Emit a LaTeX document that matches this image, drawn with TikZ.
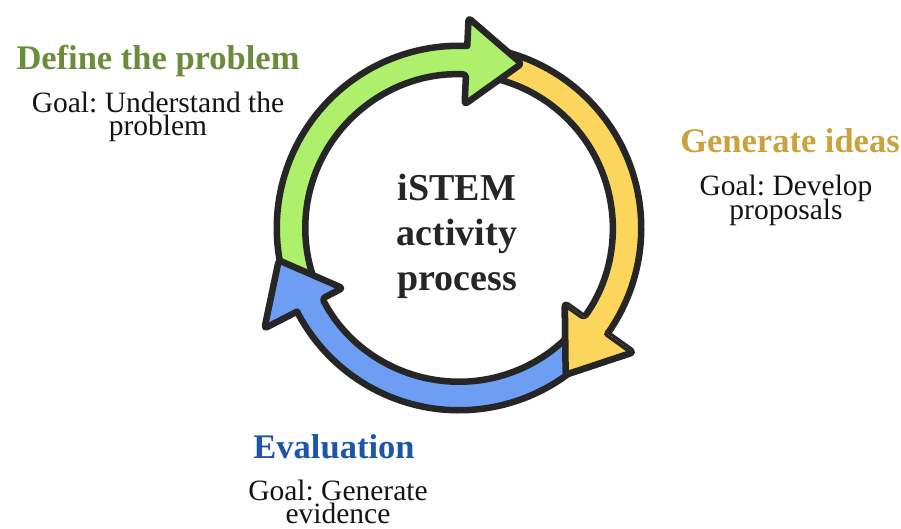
\documentclass[tikz,border=0pt]{standalone}
\usepackage{fontspec}
\setmainfont{Liberation Serif}
\usetikzlibrary{calc}
\frenchspacing

\definecolor{ringline}{HTML}{262626}
\definecolor{defgreen}{HTML}{AEF06B}
\definecolor{genyellow}{HTML}{FCD65C}
\definecolor{evalblue}{HTML}{6E9EF3}
\definecolor{deftitle}{HTML}{6A8D3A}
\definecolor{gentitle}{HTML}{C9A33D}
\definecolor{evaltitle}{HTML}{1E55A8}

% ring geometry: band between radii 153.75 and 182.25 around the centre
\newcommand\bandout{182.25}
\newcommand\bandin{153.75}
% #1 fill, #2 tail angle, #3 head base angle, #4 head centre radius,
% #5 head half-width, #6 head length
\newcommand\ringarrow[6]{%
  \pgfmathsetmacro\rhout{#4+#5}%
  \pgfmathsetmacro\rhin{#4-#5}%
  \pgfmathsetmacro\rtan{#3+90}%
  \path[arrowbody,fill=#1]
    (#2:\bandout) arc[start angle=#2,end angle=#3,radius=\bandout]
    [rounded corners=3pt] -- (#3:\rhout) -- ($(#3:#4)+(\rtan:#6)$) -- (#3:\rhin)
    -- (#3:\bandin) [sharp corners] arc[start angle=#3,end angle=#2,radius=\bandin]
    -- cycle;}

\begin{document}
\begin{tikzpicture}[x=1pt,y=-1pt,
  arrowbody/.style={draw=ringline,line width=6.5pt,line join=round},
  titletext/.style={font=\rmfamily\fontsize{34.5}{40}\selectfont\bfseries,anchor=base,inner sep=0pt},
  goaltext/.style={font=\rmfamily\mdseries\fontsize{29.5}{34}\selectfont,anchor=base,inner sep=0pt,text=black!92},
  centretext/.style={font=\rmfamily\fontsize{38}{46}\selectfont\bfseries,anchor=base,inner sep=0pt,text=black!85}]
\useasboundingbox[fill=white] (0,0) rectangle (901,528);

\begin{scope}[shift={(459,228)}]
  % three clockwise arrows; each head lies over the next tail
  \ringarrow{genyellow}{282}{395.5}{172}{42}{57.5}
  \ringarrow{defgreen}{158}{272.6}{167}{43.25}{55}
  \ringarrow{evalblue}{42}{152.7}{175}{44}{54}
  % yellow head again, on top of the blue tail
  \begin{scope}
    \clip (395.5:110) -- (395.5:235) -- ($(395.5:235)+(485.5:85)$)
      -- ($(395.5:110)+(485.5:85)$) -- cycle;
    \ringarrow{genyellow}{282}{395.5}{172}{42}{57.5}
  \end{scope}
\end{scope}

% centre label
\node[centretext] (centreA) at (457,200) {iSTEM};
\node[centretext] (centreB) at (457,245) {activity};
\node[centretext] (centreC) at (457,290) {process};

% stage labels
\node[titletext,text=deftitle] (defTitle) at (158,69) {Define the problem};
\node[goaltext] (defGoalA) at (158,112) {Goal: Understand the};
\node[goaltext] (defGoalB) at (158,135) {problem};

\node[titletext,text=gentitle] (genTitle) at (790,152) {Generate ideas};
\node[goaltext] (genGoalA) at (786,195) {Goal: Develop};
\node[goaltext] (genGoalB) at (786,219) {proposals};

\node[titletext,text=evaltitle] (evalTitle) at (334,458) {Evaluation};
\node[goaltext] (evalGoalA) at (338,500) {Goal: Generate};
\node[goaltext] (evalGoalB) at (338,523) {evidence};
\end{tikzpicture}
\end{document}
